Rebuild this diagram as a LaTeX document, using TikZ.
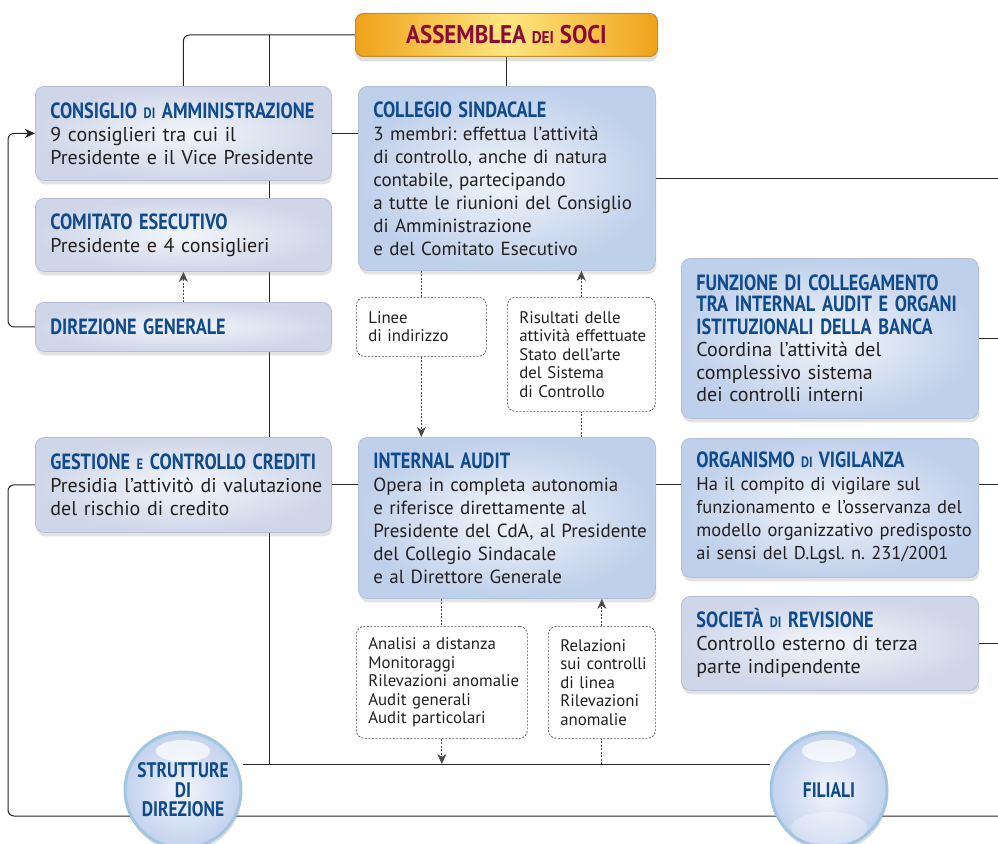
\documentclass[tikz,border=0pt]{standalone}
\usepackage{fontspec}
\setmainfont{PT Sans}
\newfontfamily\condfont{PT Sans}[FakeStretch=0.83]
\newfontfamily\asmfont{PT Sans}[FakeStretch=0.9]
\usetikzlibrary{arrows.meta,shadows,backgrounds}
\definecolor{titleblue}{HTML}{0E4A8C}
\definecolor{bodytext}{HTML}{231F20}
\definecolor{boxline}{HTML}{B4BED6}
\definecolor{boxinner}{HTML}{F2F5FB}
\definecolor{greyouter}{HTML}{CFD6E8}
\definecolor{blueouter}{HTML}{BFD0EA}
\definecolor{asmedge}{HTML}{EFA21A}
\definecolor{asmmid}{HTML}{FFE680}
\definecolor{asmline}{HTML}{C48C30}
\definecolor{asmtext}{HTML}{8A0B35}
\definecolor{circedge}{HTML}{A2C6E2}
\definecolor{circouter}{HTML}{C3D2EE}
\definecolor{linecol}{HTML}{262626}
\definecolor{dashcol}{HTML}{4A4A4A}
\newcommand\boxtitle[1]{{\condfont\bfseries\color{titleblue}\fontsize{22}{21.5}\selectfont #1}}
\newcommand\smallcapw[1]{{\fontsize{15}{15}\selectfont #1}}
\tikzset{
  noshrink/.style={execute at begin node={\rightskip=0pt plus 1fil minus 1000pt\frenchspacing}},
  box/.style={draw=boxline, line width=0.8pt, rounded corners=9pt, anchor=north west,
    align=left, inner xsep=15pt, inner ysep=4pt, text=bodytext,
    font=\fontsize{19.5}{23}\selectfont, noshrink,
    drop shadow={opacity=0.22, shadow xshift=1pt, shadow yshift=-4pt}},
  greybox/.style={box, inner color=boxinner, outer color=greyouter},
  bluebox/.style={box, inner color=boxinner, outer color=blueouter},
  dbox/.style={draw=dashcol, line width=0.7pt, dash pattern=on 2pt off 1.5pt,
    rounded corners=8pt, fill=white, anchor=north west, align=left, noshrink,
    inner xsep=12pt, inner ysep=3pt, text=bodytext, font=\fontsize{16.8}{18.5}\selectfont},
  circ/.style={circle, minimum size=116pt, inner sep=0pt, draw=circedge, line width=3pt,
    inner color=boxinner, outer color=circouter, align=center, text=titleblue,
    font=\condfont\bfseries\fontsize{21}{19.5}\selectfont,
    drop shadow={opacity=0.25, shadow xshift=1pt, shadow yshift=-4pt}},
  conn/.style={draw=linecol, line width=1pt},
  dconn/.style={draw=dashcol, line width=0.8pt, dash pattern=on 2pt off 1.5pt},
  arr/.style={-{Stealth[length=10pt,width=9pt,inset=3pt]}},
}
\begin{document}
\begin{tikzpicture}[x=1pt,y=-1pt]
\useasboundingbox (0,0) rectangle (998,843);

% Assemblea
\node[draw=asmline, line width=1pt, rounded corners=8pt, anchor=north west,
  minimum width=302pt, minimum height=43pt, left color=asmedge, right color=asmedge,
  middle color=asmmid, text=asmtext, font=\asmfont\bfseries\fontsize{25.5}{25.5}\selectfont,
  drop shadow={opacity=0.25, shadow xshift=0pt, shadow yshift=-5pt}]
  (asm) at (355,13) {ASSEMBLEA {\fontsize{17}{17}\selectfont DEI} SOCI};

% Left column
\node[greybox, font=\fontsize{20}{23}\selectfont, text width=266pt, minimum height=94pt] (cda) at (35,86)
  {\boxtitle{CONSIGLIO \smallcapw{DI} AMMINISTRAZIONE}\\9 consiglieri tra cui il\\Presidente e il Vice Presidente};
\node[greybox, font=\fontsize{20}{23}\selectfont, text width=266pt, minimum height=73pt] (com) at (35,198)
  {\boxtitle{COMITATO ESECUTIVO}\\Presidente e 4 consiglieri};
\node[greybox, text width=266pt, minimum height=49pt] (dg) at (35,302)
  {\boxtitle{DIREZIONE GENERALE}};
\node[greybox, font=\fontsize{20}{23}\selectfont, text width=266pt, minimum height=95pt] (ges) at (35,437)
  {\boxtitle{GESTIONE \smallcapw{E} CONTROLLO CREDITI}\\Presidia l’attivitò di valutazione\\del rischio di credito};

% Centre column
\node[bluebox, font=\fontsize{19}{23}\selectfont, text width=267pt, minimum height=184pt] (col) at (358,86)
  {\boxtitle{COLLEGIO SINDACALE}\\3 membri: effettua l’attività\\di controllo, anche di natura\\contabile, partecipando\\a tutte le riunioni del Consiglio\\di Amministrazione\\e del Comitato Esecutivo};
\node[bluebox, font=\fontsize{19}{23}\selectfont, text width=267pt, minimum height=161pt] (ia) at (358,437)
  {\boxtitle{INTERNAL AUDIT}\\Opera in completa autonomia\\e riferisce direttamente al\\Presidente del CdA, al Presidente\\del Collegio Sindacale\\e al Direttore Generale};

% Right column
\node[bluebox, font=\fontsize{20}{22.5}\selectfont, text width=267pt, minimum height=160pt] (fun) at (681,258)
  {\boxtitle{FUNZIONE DI COLLEGAMENTO\\TRA INTERNAL AUDIT E ORGANI\\ISTITUZIONALI DELLA BANCA}\\Coordina l’attività del\\complessivo sistema\\dei controlli interni};
\node[bluebox, font=\fontsize{18.5}{23}\selectfont, text width=267pt, minimum height=139pt] (org) at (681,438)
  {\boxtitle{ORGANISMO \smallcapw{DI} VIGILANZA}\\Ha il compito di vigilare sul\\funzionamento e l’osservanza del\\modello organizzativo predisposto\\ai sensi del D.Lgsl. n. 231/2001};
\node[greybox, font=\fontsize{20}{23}\selectfont, text width=267pt, minimum height=94pt] (soc) at (681,596)
  {\boxtitle{SOCIETÀ \smallcapw{DI} REVISIONE}\\Controllo esterno di terza\\parte indipendente};

% Dashed boxes
\node[dbox, text width=106pt, minimum height=59pt] (lin) at (356,297)
  {Linee\\di indirizzo};
\node[dbox, text width=124pt, minimum height=114pt] (ris) at (507,297)
  {Risultati delle\\attività effettuate\\Stato dell’arte\\del Sistema\\di Controllo};
\node[dbox, text width=147pt, minimum height=112pt] (ana) at (356,626)
  {Analisi a distanza\\Monitoraggi\\Rilevazioni anomalie\\Audit generali\\Audit particolari};
\node[dbox, text width=83pt, minimum height=112pt] (rel) at (548,626)
  {Relazioni\\sui controlli\\di linea\\Rilevazioni\\anomalie};

% Circles
\node[circ] (strut) at (183,790) {STRUTTURE\\DI\\DIREZIONE};
\node[circ] (fil) at (829,790) {FILIALI};
\fill[white, opacity=0.7] (183,751) ellipse (27pt and 11pt);
\fill[white, opacity=0.7] (829,751) ellipse (27pt and 11pt);
\fill[white, opacity=0.3] (829,828) ellipse (38pt and 16pt);

% Coordinates
\coordinate (jtop) at (269,35);
\coordinate (jbot) at (269,764);
\coordinate (lx) at (8,0);
\coordinate (rx) at (998,0);
\coordinate (rb) at (998,816);

\begin{scope}[on background layer]
  \draw[conn, rounded corners=6pt] (asm.west) -| (cda.north);
  \draw[conn] (jtop) -- (jbot);
  \draw[conn] (asm.south) -- (asm.south |- col.north);
  \draw[conn] (cda.east) -- (cda.east -| col.west);
  \draw[conn] (col.east |- 0,178) -- (rx |- 0,178);
  \draw[conn, arr, rounded corners=6pt] (dg.west) -- (dg.west -| lx) |- (cda.west);
  \draw[dconn, arr] (dg.north) -- (dg.north |- com.south);
  \draw[conn] (ges.east) -- (ges.east -| ia.west);
  \draw[conn] (ges.east -| ia.east) -- (ges.east -| org.west);
  \draw[conn] (ges.east -| org.east) -- (ges.east -| rx);
  \draw[conn, rounded corners=6pt] (ges.west) -- (ges.west -| lx) |- (rb);
  \draw[conn] (jbot -| strut.east) -- (jbot -| fil.west);
  \draw[conn] (fun.east) -- (fun.east -| rx);
  \draw[conn] (soc.east) -- (soc.east -| rx);
  % dashed
  \draw[dconn] (col.south -| lin.north) -- (lin.north);
  \draw[dconn, arr] (lin.south) -- (lin.south |- ia.north);
  \draw[dconn] (ia.north -| ris.south) -- (ris.south);
  \draw[dconn, arr] (ris.north) -- (ris.north |- col.south);
  \draw[dconn] (ia.south -| ana.north) -- (ana.north);
  \draw[dconn, arr] (ana.south) -- (ana.south |- jbot);
  \draw[dconn] (jbot -| rel.south) -- (rel.south);
  \draw[dconn, arr] (rel.north) -- (rel.north |- ia.south);
\end{scope}
\end{tikzpicture}
\end{document}
